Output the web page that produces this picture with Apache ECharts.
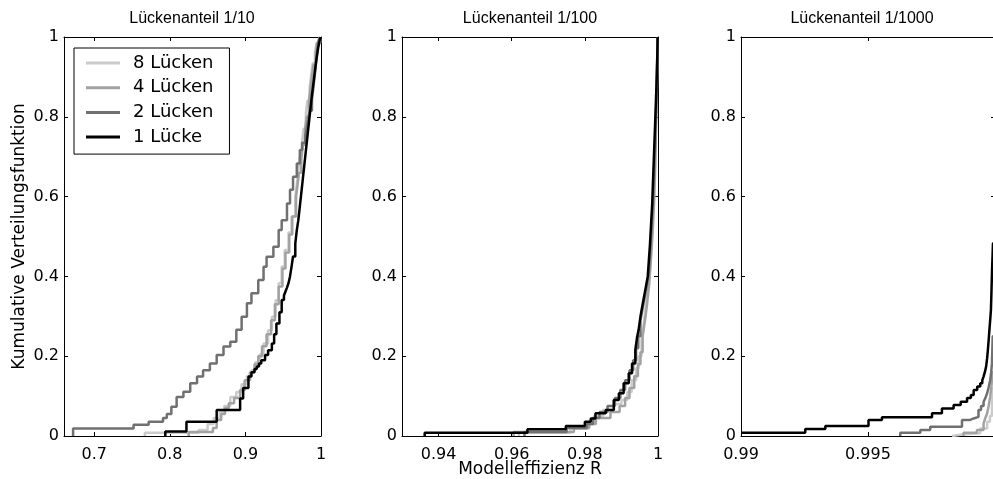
<!DOCTYPE html>
<html><head><meta charset="utf-8">
<script src="https://cdn.jsdelivr.net/npm/echarts@6/dist/echarts.min.js"></script>
<style>html,body{margin:0;padding:0;background:#fff}#c{width:993px;height:479px}</style>
</head><body><div id="c"></div>
<script>
// ---------- data ----------
const seriesNames = ['8 Lücken', '4 Lücken', '2 Lücken', '1 Lücke'];
const panelTitles = ['Lückenanteil 1/10', 'Lückenanteil 1/100', 'Lückenanteil 1/1000'];
const xAxisName = 'Modelleffizienz R';
const yAxisName = 'Kumulative Verteilungsfunktion';
const xMin = [0.66, 0.93, 0.99];
const xMax = [1, 1, 1];
const xTicks1 = [0.7, 0.8, 0.9, 1];
const xTicks2 = [0.94, 0.96, 0.98, 1];
const xTicks3 = [0.99, 0.995, 1];
const xLabels3 = [0.99, 0.995];
const yTicks = [0, 0.2, 0.4, 0.6, 0.8, 1];

// Panel 1 (Lückenanteil 1/10)
const p1_8x = [0.767, 0.767, 0.838, 0.850, 0.858, 0.866, 0.872, 0.880, 0.888, 0.895, 0.902, 0.908, 0.913, 0.919, 0.924, 0.930, 0.935, 0.940, 0.944, 0.948, 0.952, 0.957, 0.961, 0.966, 0.968, 0.970, 0.972, 0.975, 0.977, 0.980, 0.982, 0.985, 0.987, 0.989, 0.992, 0.994, 0.998];
const p1_8y = [0, 0.008, 0.015, 0.030, 0.045, 0.060, 0.075, 0.098, 0.110, 0.130, 0.150, 0.165, 0.185, 0.205, 0.232, 0.265, 0.299, 0.340, 0.383, 0.425, 0.466, 0.510, 0.550, 0.600, 0.630, 0.665, 0.700, 0.740, 0.770, 0.809, 0.840, 0.875, 0.905, 0.934, 0.960, 0.985, 1.0];
const p1_4x = [0.825, 0.825, 0.857, 0.862, 0.868, 0.873, 0.878, 0.885, 0.893, 0.899, 0.906, 0.912, 0.917, 0.922, 0.928, 0.934, 0.939, 0.944, 0.949, 0.953, 0.958, 0.962, 0.967, 0.969, 0.971, 0.974, 0.976, 0.979, 0.981, 0.984, 0.986, 0.988, 0.990, 0.993, 0.995, 0.999];
const p1_4y = [0, 0.010, 0.020, 0.040, 0.055, 0.070, 0.082, 0.095, 0.115, 0.140, 0.160, 0.180, 0.200, 0.225, 0.255, 0.290, 0.330, 0.375, 0.420, 0.460, 0.505, 0.550, 0.600, 0.630, 0.660, 0.700, 0.730, 0.770, 0.800, 0.840, 0.870, 0.900, 0.930, 0.960, 0.985, 1.0];
const p1_2x = [0.672, 0.672, 0.752, 0.772, 0.791, 0.796, 0.802, 0.809, 0.818, 0.827, 0.836, 0.844, 0.853, 0.862, 0.871, 0.880, 0.888, 0.895, 0.902, 0.908, 0.917, 0.924, 0.928, 0.937, 0.944, 0.948, 0.955, 0.959, 0.963, 0.968, 0.972, 0.975, 0.979, 0.981, 0.983, 0.985, 0.988, 0.990, 0.992, 0.994, 0.996, 0.998];
const p1_2y = [0, 0.019, 0.028, 0.036, 0.045, 0.055, 0.073, 0.098, 0.111, 0.132, 0.149, 0.165, 0.182, 0.203, 0.224, 0.236, 0.266, 0.299, 0.333, 0.358, 0.391, 0.424, 0.449, 0.474, 0.516, 0.541, 0.583, 0.617, 0.650, 0.683, 0.717, 0.735, 0.750, 0.770, 0.792, 0.815, 0.842, 0.875, 0.909, 0.945, 0.984, 1.0];
const p1_1x = [0.794, 0.794, 0.822, 0.862, 0.893, 0.897, 0.904, 0.908, 0.912, 0.915, 0.918, 0.921, 0.926, 0.930, 0.935, 0.938, 0.941, 0.945, 0.948, 0.951, 0.953, 0.955, 0.957, 0.959, 0.961, 0.963, 0.966, 0.968, 0.970, 0.972, 0.974, 0.976, 0.978, 0.980, 0.982, 0.984, 0.986, 0.988, 0.990, 0.992, 0.994, 0.996, 0.998, 0.9995];
const p1_1y = [0, 0.011, 0.036, 0.065, 0.094, 0.120, 0.149, 0.160, 0.168, 0.174, 0.182, 0.190, 0.203, 0.215, 0.232, 0.255, 0.282, 0.310, 0.341, 0.352, 0.362, 0.372, 0.383, 0.400, 0.424, 0.450, 0.483, 0.516, 0.541, 0.575, 0.610, 0.645, 0.680, 0.715, 0.750, 0.785, 0.820, 0.855, 0.885, 0.915, 0.945, 0.970, 0.990, 1.0];

// Panel 2 (Lückenanteil 1/100)
const p2_8x = [0.962, 0.962, 0.9760, 0.9808, 0.9825, 0.9850, 0.9880, 0.9900, 0.9916, 0.9928, 0.9940, 0.9947, 0.9955, 0.9959, 0.9962, 0.9966, 0.9970, 0.9974, 0.9979, 0.9982, 0.9986, 0.9988, 0.9991, 0.9993, 0.9995, 0.9997, 0.9999];
const p2_8y = [0, 0.008, 0.018, 0.030, 0.050, 0.065, 0.080, 0.090, 0.110, 0.140, 0.170, 0.200, 0.240, 0.265, 0.290, 0.320, 0.350, 0.390, 0.440, 0.490, 0.560, 0.610, 0.700, 0.770, 0.850, 0.920, 1.0];
const p2_4x = [0.9605, 0.9605, 0.9770, 0.9812, 0.9830, 0.9870, 0.9895, 0.9910, 0.9922, 0.9935, 0.9945, 0.9952, 0.9958, 0.9962, 0.9966, 0.9970, 0.9973, 0.9976, 0.9979, 0.9982, 0.9984, 0.9987, 0.9989, 0.9991, 0.9993, 0.9994, 0.9996, 0.9997, 0.9998, 0.9999];
const p2_4y = [0, 0.010, 0.020, 0.030, 0.045, 0.060, 0.075, 0.095, 0.120, 0.150, 0.180, 0.210, 0.250, 0.275, 0.300, 0.330, 0.355, 0.380, 0.420, 0.460, 0.490, 0.540, 0.580, 0.630, 0.690, 0.750, 0.820, 0.880, 0.940, 1.0];
const p2_2x = [0.9635, 0.9635, 0.9750, 0.9805, 0.9822, 0.9840, 0.9862, 0.9882, 0.9897, 0.9910, 0.9922, 0.9932, 0.9940, 0.9946, 0.9952, 0.9957, 0.9962, 0.9967, 0.9971, 0.9975, 0.9978, 0.9981, 0.9984, 0.9987, 0.9989, 0.9991, 0.9993, 0.9995, 0.9997, 0.9998, 0.99995];
const p2_2y = [0, 0.010, 0.020, 0.030, 0.045, 0.060, 0.075, 0.095, 0.115, 0.140, 0.165, 0.190, 0.220, 0.250, 0.290, 0.315, 0.340, 0.365, 0.385, 0.410, 0.450, 0.500, 0.550, 0.600, 0.650, 0.700, 0.760, 0.820, 0.880, 0.940, 1.0];
const p2_1x = [0.9362, 0.9362, 0.9643, 0.9748, 0.9800, 0.9816, 0.9829, 0.9857, 0.9879, 0.9893, 0.9906, 0.9920, 0.9929, 0.9938, 0.9943, 0.9947, 0.9952, 0.9956, 0.9960, 0.9964, 0.9968, 0.9972, 0.9975, 0.9978, 0.9981, 0.9984, 0.9986, 0.9988, 0.9990, 0.9992, 0.9994, 0.9996, 0.9998, 0.9999];
const p2_1y = [0, 0.008, 0.017, 0.025, 0.036, 0.044, 0.057, 0.065, 0.090, 0.107, 0.132, 0.157, 0.182, 0.216, 0.249, 0.266, 0.299, 0.320, 0.340, 0.360, 0.380, 0.400, 0.440, 0.480, 0.530, 0.580, 0.630, 0.680, 0.730, 0.780, 0.830, 0.884, 0.950, 1.0];

// Panel 3 (Lückenanteil 1/1000)
const p3_8x = [0.99831, 0.99831, 0.9987, 0.99942, 0.99969, 0.99980, 0.99988, 0.99992, 1.0];
const p3_8y = [0, 0.004, 0.007, 0.019, 0.036, 0.050, 0.073, 0.120, 1.0];
const p3_4x = [0.99876, 0.99876, 0.99929, 0.99955, 0.99962, 0.99969, 0.99975, 0.99981, 0.99986, 0.99990, 1.0];
const p3_4y = [0, 0.008, 0.015, 0.032, 0.045, 0.057, 0.075, 0.098, 0.125, 0.160, 1.0];
const p3_2x = [0.99627, 0.99627, 0.99706, 0.99745, 0.9987, 0.99900, 0.99916, 0.99935, 0.99945, 0.99955, 0.99962, 0.99969, 0.99975, 0.99981, 0.99985, 0.99988, 0.99991, 1.0];
const p3_2y = [0, 0.008, 0.015, 0.023, 0.040, 0.044, 0.048, 0.065, 0.075, 0.086, 0.095, 0.107, 0.122, 0.140, 0.160, 0.182, 0.250, 1.0];
const p3_1x = [0.9900, 0.99253, 0.99332, 0.99502, 0.99555, 0.99752, 0.99791, 0.99837, 0.99865, 0.9989, 0.99905, 0.99916, 0.99930, 0.99942, 0.99950, 0.99955, 0.99960, 0.99965, 0.99969, 0.99972, 0.99975, 0.99978, 0.99981, 0.99984, 0.99986, 0.99988, 0.99992, 1.0];
const p3_1y = [0.008, 0.0175, 0.025, 0.040, 0.047, 0.057, 0.069, 0.078, 0.086, 0.095, 0.103, 0.115, 0.124, 0.132, 0.140, 0.149, 0.160, 0.174, 0.195, 0.216, 0.240, 0.266, 0.290, 0.316, 0.360, 0.408, 0.483, 1.0];

// ---------- styling / layout ----------
const FONT = 'DejaVu Sans';
const colors = ['#cbcbcb', '#a2a2a2', '#707070', '#000000'];
const grids = [
  { left: 64, top: 37, width: 257, height: 399, outerBoundsMode: 'none', containLabel: false },
  { left: 402, top: 37, width: 256, height: 399, outerBoundsMode: 'none', containLabel: false },
  { left: 741, top: 37, width: 254, height: 399, outerBoundsMode: 'none', containLabel: false }
];
const titleX = [192, 530, 862];
const xTicksAll = [xTicks1, xTicks2, xTicks3];
const xLabelsAll = [xTicks1, xTicks2, xLabels3];
const panelData = [
  [[p1_8x, p1_8y], [p1_4x, p1_4y], [p1_2x, p1_2y], [p1_1x, p1_1y]],
  [[p2_8x, p2_8y], [p2_4x, p2_4y], [p2_2x, p2_2y], [p2_1x, p2_1y]],
  [[p3_8x, p3_8y], [p3_4x, p3_4y], [p3_2x, p3_2y], [p3_1x, p3_1y]]
];
function pairs(xs, ys) {
  const n = Math.min(xs.length, ys.length), out = [];
  for (let i = 0; i < n; i++) out.push([xs[i], ys[i]]);
  return out;
}
const lineAx = { show: true, onZero: false, lineStyle: { color: '#000', width: 1 } };
const tickStyle = { lineStyle: { color: '#000', width: 1 } };

const xAxes = [], yAxes = [], series = [], graphics = [];
for (let p = 0; p < 3; p++) {
  xAxes.push({
    type: 'value', gridIndex: p, min: xMin[p], max: xMax[p], position: 'bottom',
    axisLine: lineAx, splitLine: { show: false },
    axisTick: Object.assign({ show: true, inside: true, length: 4, customValues: xTicksAll[p] }, tickStyle),
    axisLabel: { show: true, customValues: xLabelsAll[p], color: '#000', fontFamily: FONT, fontSize: 16, margin: 11,
                 formatter: v => String(v), hideOverlap: false },
    name: p === 1 ? xAxisName : '', nameLocation: 'middle', nameGap: 25, nameMoveOverlap: false,
    nameTextStyle: { color: '#000', fontFamily: FONT, fontSize: 17 }
  });
  xAxes.push({
    type: 'value', gridIndex: p, min: xMin[p], max: xMax[p], position: 'top',
    axisLine: lineAx, splitLine: { show: false },
    axisTick: Object.assign({ show: true, inside: true, length: 4, customValues: xTicksAll[p] }, tickStyle),
    axisLabel: { show: false }
  });
  yAxes.push({
    type: 'value', gridIndex: p, min: 0, max: 1, interval: 0.2, position: 'left',
    axisLine: lineAx, splitLine: { show: false },
    axisTick: Object.assign({ show: true, inside: true, length: 4 }, tickStyle),
    axisLabel: { show: true, color: '#000', fontFamily: FONT, fontSize: 16, margin: 5, formatter: v => String(v) },
    name: p === 0 ? yAxisName : '', nameLocation: 'middle', nameGap: 36,
    nameTextStyle: { color: '#000', fontFamily: FONT, fontSize: 17 }
  });
  yAxes.push({
    type: 'value', gridIndex: p, min: 0, max: 1, interval: 0.2, position: 'right',
    axisLine: lineAx, splitLine: { show: false },
    axisTick: Object.assign({ show: true, inside: true, length: 4 }, tickStyle),
    axisLabel: { show: false }
  });
  for (let s = 0; s < 4; s++) {
    series.push({
      type: 'line', name: seriesNames[s], xAxisIndex: p * 2, yAxisIndex: p * 2,
      data: pairs(panelData[p][s][0], panelData[p][s][1]),
      step: 'end', symbol: 'none', showSymbol: false, clip: true,
      color: colors[s], lineStyle: { color: colors[s], width: 2.5 }, z: 2 + s
    });
  }
  graphics.push({
    type: 'text', x: titleX[p], y: 11,
    style: { text: panelTitles[p], fill: '#000', font: '16px "Liberation Sans"', textAlign: 'center', textVerticalAlign: 'top' }
  });
}

const chart = echarts.init(document.getElementById('c'), null, { renderer: 'canvas' });
chart.setOption({
  backgroundColor: '#fff',
  animation: false,
  grid: grids,
  xAxis: xAxes,
  yAxis: yAxes,
  series: series,
  graphic: graphics,
  legend: {
    data: seriesNames, orient: 'vertical', left: 74, top: 48,
    backgroundColor: '#fff', borderColor: '#000', borderWidth: 1, borderRadius: 0,
    padding: [6, 16, 8, 12], itemGap: 6.7, itemWidth: 34, itemHeight: 3, icon: 'rect',
    textStyle: { color: '#000', fontFamily: FONT, fontSize: 18, lineHeight: 18, padding: [0, 0, 0, 8] },
    selectedMode: false
  }
});
</script></body></html>
